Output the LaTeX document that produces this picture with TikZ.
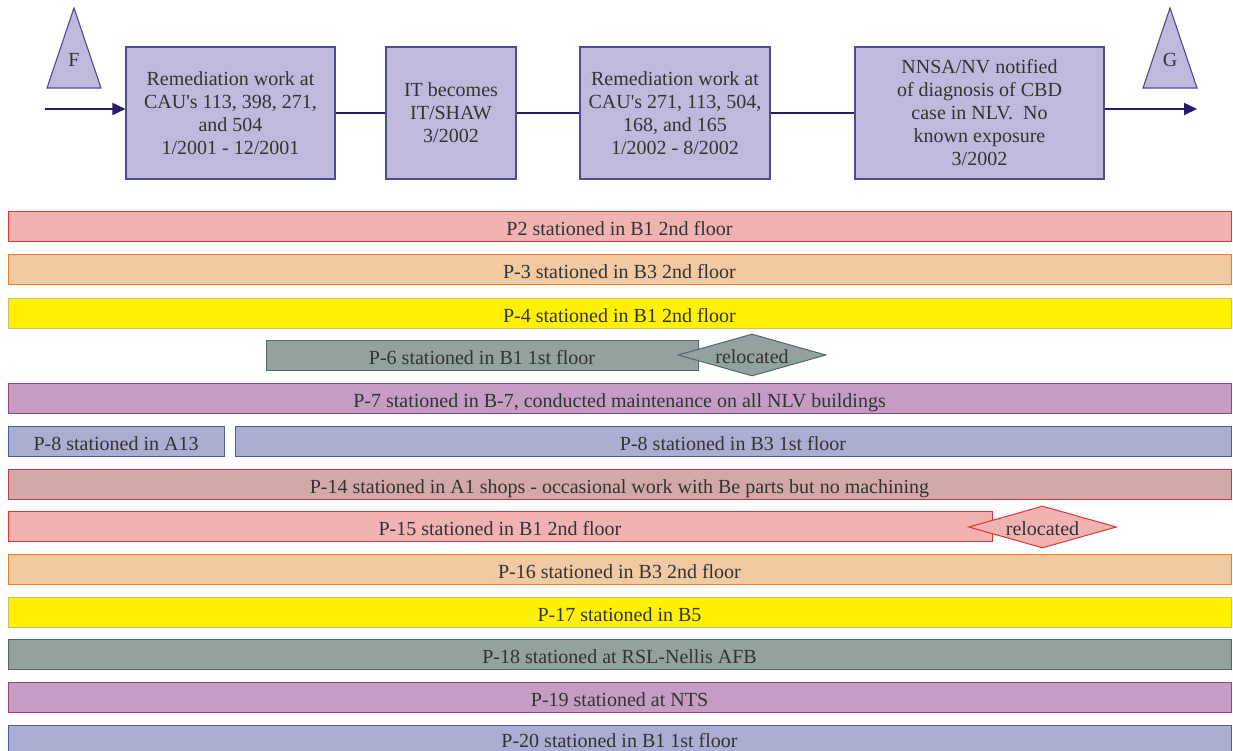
\documentclass[tikz,border=0pt]{standalone}
\usepackage{fontspec}
\setmainfont{Liberation Serif}
\usetikzlibrary{arrows.meta,shapes.geometric}

% timeline boxes and flow line
\definecolor{boxfill}{HTML}{C0B9DC}
\definecolor{boxline}{HTML}{4C4C94}
\definecolor{flow}{HTML}{2A1A6E}
\definecolor{ink}{HTML}{333333}
% station bars
\definecolor{pinkfill}{HTML}{F1B2B2}
\definecolor{pinkline}{HTML}{E63232}
\definecolor{peachfill}{HTML}{F1C9A2}
\definecolor{peachline}{HTML}{EE7A22}
\definecolor{yelfill}{HTML}{FFF200}
\definecolor{yelline}{HTML}{C8C070}
\definecolor{slatefill}{HTML}{93A19F}
\definecolor{slateline}{HTML}{506868}
\definecolor{plumfill}{HTML}{C49CC4}
\definecolor{plumline}{HTML}{A0407A}
\definecolor{bluefill}{HTML}{AAAED3}
\definecolor{blueline}{HTML}{4E5E8E}
\definecolor{rosefill}{HTML}{D2A8A8}
\definecolor{roseline}{HTML}{B84040}

\begin{document}
\begin{tikzpicture}[x=1pt,y=-1pt,
  every node/.style={font=\fontsize{20pt}{23pt}\selectfont, text=ink},
  event/.style={draw=boxline, fill=boxfill, line width=1.1pt, align=center,
    minimum height=132pt, inner sep=0pt},
  marker/.style={draw=boxline, fill=boxfill, line width=1.1pt},
  flowline/.style={draw=flow, line width=1.8pt},
  flowarrow/.style={flowline, -{Triangle[length=13pt,width=12pt]}},
  bar/.style={rectangle, line width=1pt, minimum height=30pt, inner sep=0pt,
    text depth=0pt, text height=18pt},
  reloc/.style={diamond, line width=1pt, minimum width=148pt, minimum height=42pt,
    aspect=3.5, inner sep=0pt, text depth=0pt, text height=16pt},
  pink/.style={fill=pinkfill, draw=pinkline},
  peach/.style={fill=peachfill, draw=peachline},
  yel/.style={fill=yelfill, draw=yelline},
  slate/.style={fill=slatefill, draw=slateline},
  plum/.style={fill=plumfill, draw=plumline},
  blu/.style={fill=bluefill, draw=blueline},
  rose/.style={fill=rosefill, draw=roseline},
  full/.style={minimum width=1223pt}
]
\useasboundingbox (0,0) rectangle (1233,750);
\fill[white] (0,0) rectangle (1233,750);

% start and end markers
\draw[marker] (74,8) -- (101,88) -- (47,88) -- cycle;
\node (tF) at (74,60) {F};
\draw[marker] (1170,8) -- (1197,88) -- (1143,88) -- cycle;
\node (tG) at (1170,60) {G};

% events
\node[event, minimum width=209pt] (b1) at (230.5,113)
  {Remediation work at\\CAU\textquotesingle s 113, 398, 271,\\and 504\\1/2001 - 12/2001};
\node[event, minimum width=130pt] (b2) at (451,113)
  {IT becomes\\IT/SHAW\\3/2002};
\node[event, minimum width=190pt] (b3) at (675,113)
  {Remediation work at\\CAU\textquotesingle s 271, 113, 504,\\168, and 165\\1/2002 - 8/2002};
\node[event, minimum width=249pt] (b4) at (979.5,113)
  {NNSA/NV notified\\of diagnosis of CBD\\case in NLV.~~No\\known exposure\\3/2002};

\coordinate (inF) at (45,109);
\coordinate (outG) at (1197,109);
\draw[flowarrow] (inF) -- (b1.west |- inF);
\draw[flowline] (b1) -- (b2);
\draw[flowline] (b2) -- (b3);
\draw[flowline] (b3) -- (b4);
\draw[flowarrow] (b4.east |- outG) -- (outG);

% personnel stations
\node[bar, pink, full] (p2) at (619.5,226) {P2 stationed in B1 2nd floor};
\node[bar, peach, full] (p3) at (619.5,269) {P-3 stationed in B3 2nd floor};
\node[bar, yel, full] (p4) at (619.5,313) {P-4 stationed in B1 2nd floor};
\node[bar, slate, minimum width=432pt] (p6) at (482,355) {P-6 stationed in B1 1st floor};
\node[reloc, slate] (r6) at (752,355) {relocated};
\node[bar, plum, full] (p7) at (619.5,398) {P-7 stationed in B-7, conducted maintenance on all NLV buildings};
\node[bar, blu, minimum width=216pt] (p8a) at (116,441) {P-8 stationed in A13};
\node[bar, blu, minimum width=996pt] (p8b) at (733,441) {P-8 stationed in B3 1st floor};
\node[bar, rose, full] (p14) at (619.5,484) {P-14 stationed in A1 shops - occasional work with Be parts but no machining};
\node[bar, pink, minimum width=984pt] (p15) at (500,526) {P-15 stationed in B1 2nd floor};
\node[reloc, pink] (r15) at (1042.5,527) {relocated};
\node[bar, peach, full] (p16) at (619.5,569) {P-16 stationed in B3 2nd floor};
\node[bar, yel, full] (p17) at (619.5,612) {P-17 stationed in B5};
\node[bar, slate, full] (p18) at (619.5,654) {P-18 stationed at RSL-Nellis AFB};
\node[bar, plum, full] (p19) at (619.5,697) {P-19 stationed at NTS};
\node[bar, blu, full, text height=14pt] (p20) at (619.5,740) {P-20 stationed in B1 1st floor};
\end{tikzpicture}
\end{document}
